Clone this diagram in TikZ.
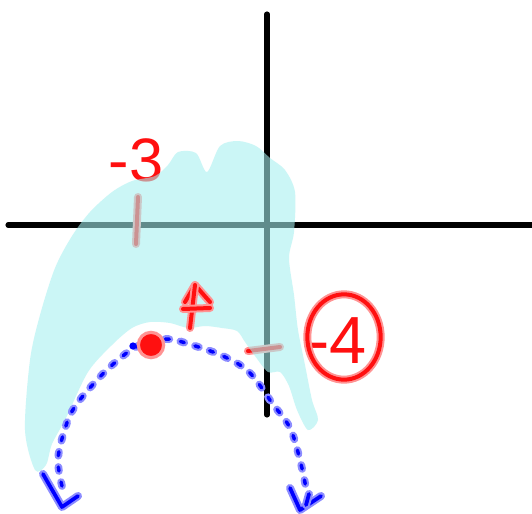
\documentclass[tikz,border=0pt]{standalone}
\usepackage{fontspec}
\setmainfont{Liberation Sans}
\usetikzlibrary{shapes.geometric}
\definecolor{marca}{HTML}{FF1010}
\definecolor{realce}{HTML}{A7F0F0}
\definecolor{caneta}{HTML}{0000FF}
\begin{document}
\begin{tikzpicture}[x=0.75pt,y=-0.75pt,
    eixo/.style={line width=3.8pt, line cap=round},
    traco/.style={draw=marca, line width=3pt, line cap=round, line join=round,
      preaction={draw=marca!45, line width=6pt, line cap=round, line join=round}},
    pontos/.style={draw=caneta, line width=2.6pt, line cap=round, dash pattern=on 3pt off 8.5pt,
      preaction={draw=caneta!45, line width=5.8pt, line cap=round, dash pattern=on 3pt off 8.5pt}},
    ponta/.style={draw=caneta, line width=2.8pt, line cap=round, line join=round,
      preaction={draw=caneta!45, line width=6pt, line cap=round, line join=round}},
    rotulo/.style={text=marca, inner sep=0pt}]
  \useasboundingbox[fill=white] (0,0) rectangle (532,514);
  % eixos
  \coordinate (xesq) at (8,225);
  \coordinate (xdir) at (532,225);
  \coordinate (ytopo) at (267,14);
  \coordinate (ybase) at (267,415);
  \draw[eixo] (xesq) -- (xdir);
  \draw[eixo] (ytopo) -- (ybase);
  % marcas nos eixos
  \draw[traco] (138,197) -- (136,244);
  \draw[traco] (248,351) -- (280,347);
  \node[rotulo, font=\fontsize{46}{46}\selectfont] (menos3) at (136,160) {-3};
  % regiao sombreada
  \fill[realce, fill opacity=0.58] plot[smooth cycle, tension=0.5] coordinates {
    (35,470) (25,430) (30,360) (40,315) (55,268) (72,236) (90,212) (112,192) (132,181)
    (155,176) (168,165) (178,152) (196,153) (207,172) (220,146) (238,141) (256,146)
    (270,158) (285,170) (295,192) (294,232) (289,258) (294,295) (298,330) (305,365)
    (312,400) (318,420) (308,430) (297,410) (289,386) (280,372) (268,372) (255,356)
    (245,342) (237,331) (222,328) (205,326) (188,328) (170,323) (150,322) (132,328)
    (112,345) (88,372) (66,418) (52,444) (46,465)};
  % seta vermelha
  \draw[traco] (185,302) -- (195,285) -- (210,302);
  \draw[traco] (195,285) -- (190,328);
  \draw[traco] (183,309) -- (210,308);
  % parabola pontilhada
  \coordinate (iniP) at (62,486);
  \coordinate (fimP) at (306,488);
  \draw[pontos] plot[smooth, tension=0.6] coordinates {
    (iniP) (58,460) (64,432) (74,408) (97,380) (118,360) (138,346) (165,339)
    (192,345) (225,357) (250,373) (272,403) (290,428) (300,460) (fimP)};
  \node[circle, fill=caneta, inner sep=0pt, minimum size=5.5pt] (pontinho) at (133,346) {};
  \node[circle, fill=marca, draw=marca!45, line width=2.4pt, inner sep=0pt, minimum size=19pt] (vertice) at (151,345) {};
  % pontas das setas
  \coordinate (setaE) at (62,507);
  \coordinate (setaD) at (300,510);
  \draw[ponta] (43,474) -- (setaE) -- (78,496);
  \draw[ponta] (290,488) -- (setaD) -- (321,496);
  \draw[ponta] (309,494) -- (306,505);
  % rotulo -4 circulado
  \node[rotulo, font=\fontsize{50}{50}\selectfont] (menos4) at (337,341) {-4};
  \node[traco, ellipse, minimum width=55pt, minimum height=64pt] (anel) at (344,337) {};
\end{tikzpicture}
\end{document}
